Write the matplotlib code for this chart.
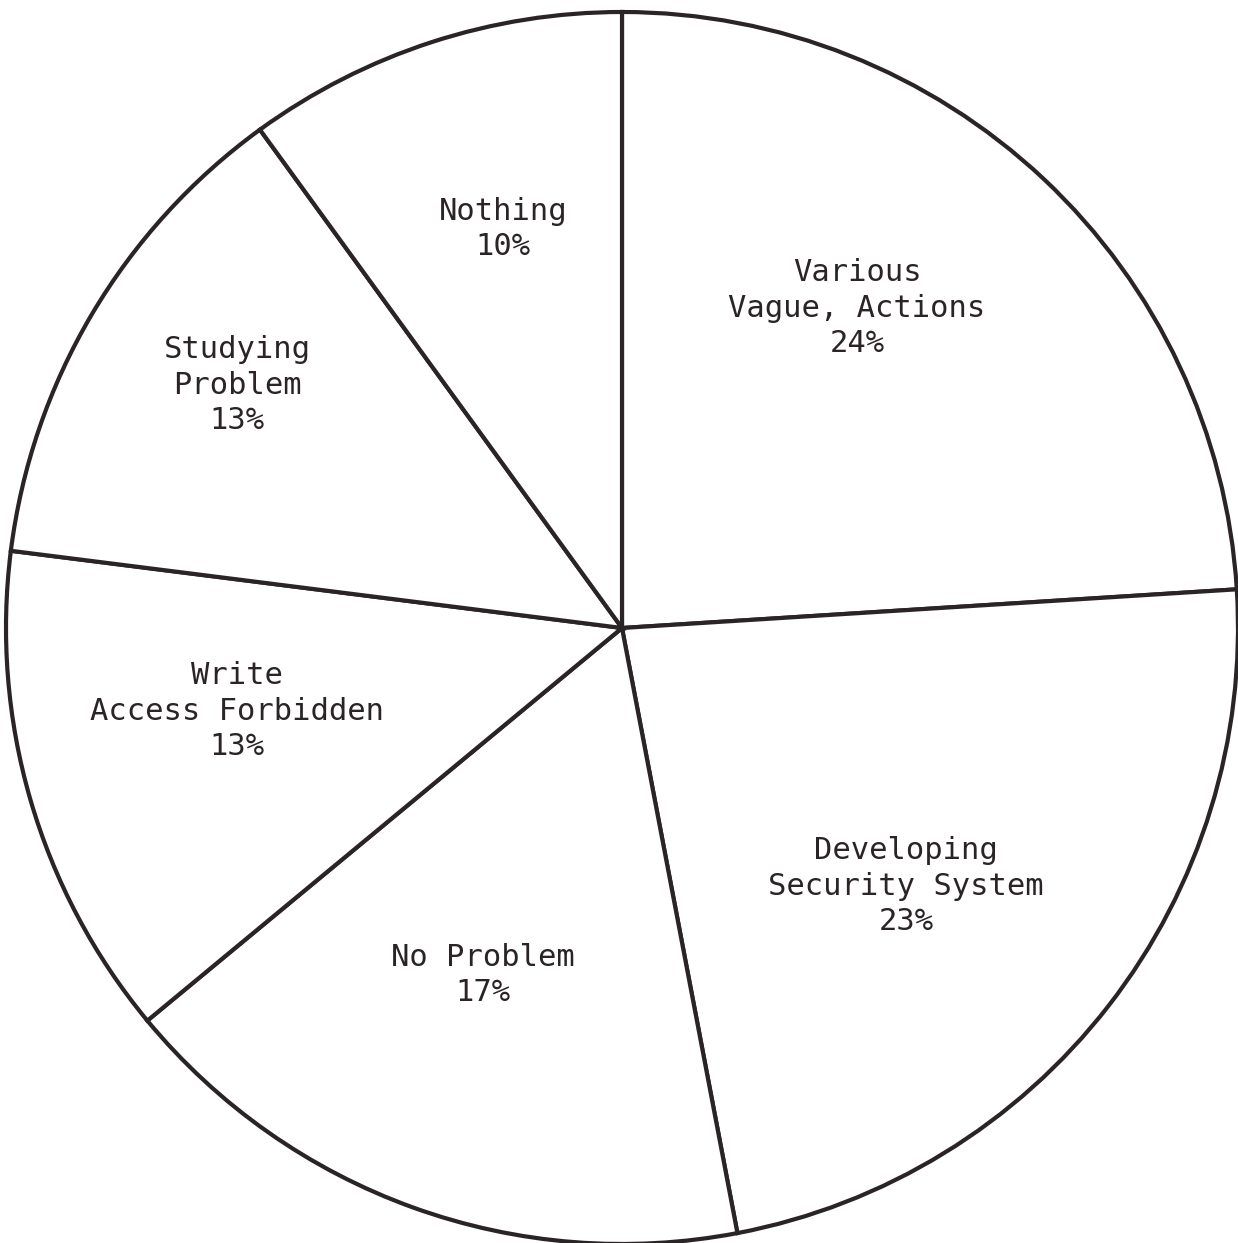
import matplotlib.pyplot as plt

# survey answers, clockwise from 12 o'clock
categories = [
    "Various\nVague, Actions",
    "Developing\nSecurity System",
    "No Problem",
    "Write\nAccess Forbidden",
    "Studying\nProblem",
    "Nothing",
]
shares = [24, 23, 17, 13, 13, 10]

# label anchors in pixel space (x, y from top)
label_xy = [(857, 308), (906, 886), (483, 975), (237, 711), (237, 385), (503, 229)]

W, H = 1238, 1243
ink = "#2a2426"

fig = plt.figure(figsize=(W / 100, H / 100), dpi=100)
ax = fig.add_axes([0, 0, 1, 1])

# y axis is flipped, so counterclock in data space runs clockwise on screen
ax.pie(shares, center=(622, 628), radius=616, startangle=-90, counterclock=True,
       colors=["white"] * len(shares),
       wedgeprops=dict(edgecolor=ink, linewidth=3.0))
ax.set_xlim(0, W)
ax.set_ylim(H, 0)
ax.set_aspect("equal", adjustable="datalim")

for name, pct, (x, y) in zip(categories, shares, label_xy):
    ax.text(x, y, f"{name}\n{pct}%", ha="center", va="center", color=ink,
            family="DejaVu Sans Mono", fontsize=22, linespacing=1.28)

ax.axis("off")
fig.savefig("out.png", dpi=100, facecolor="white")
